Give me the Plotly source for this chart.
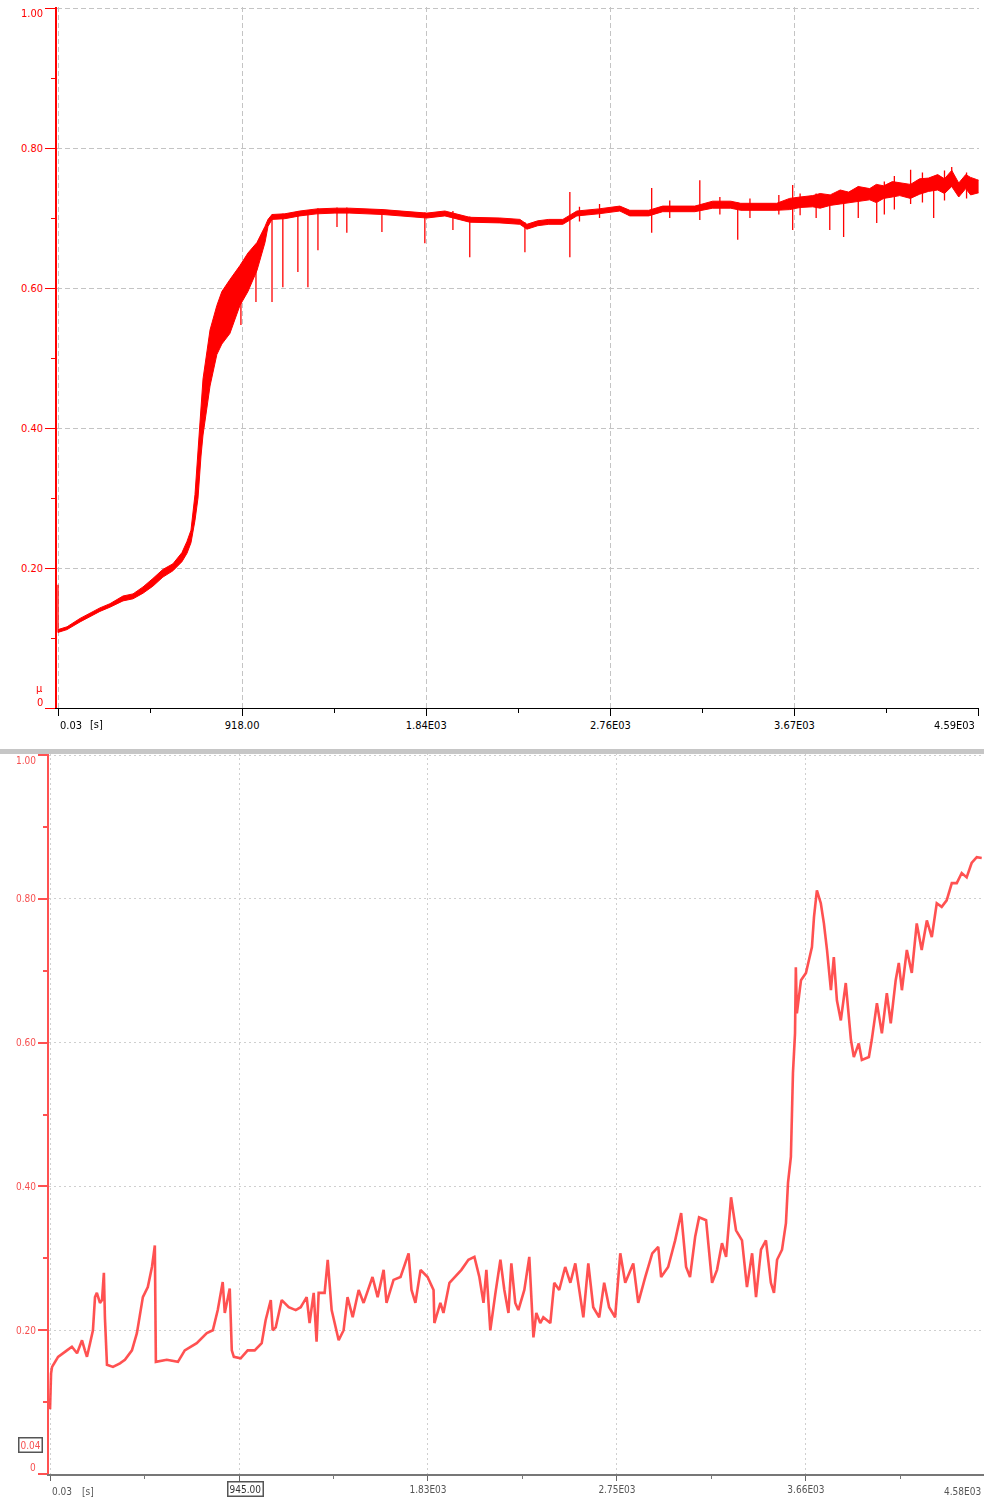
import plotly.graph_objects as go

W, H = 984, 1499

# ---------------- run 1 (upper panel): friction coefficient band ----------------
t_run1 = [0, 45, 110, 159, 209, 259, 324, 374, 424, 473, 523, 573, 618, 643, 663,
          683, 698, 713, 723, 743, 758, 792, 817, 857, 907, 947, 992, 1032, 1047,
          1067, 1131, 1206, 1291, 1381, 1455, 1620, 1729, 1839, 1929, 2053, 2203,
          2303, 2338, 2392, 2447, 2517, 2587, 2696, 2801, 2851, 2945, 3015, 3175,
          3264, 3354, 3404, 3583, 3648, 3700, 3763, 3800, 3850, 3900, 3942, 3990,
          4047, 4080, 4117, 4160, 4197, 4250, 4296, 4340, 4386, 4420, 4456, 4491,
          4526, 4550, 4580, 4590]
mu_run1_lo = [0.108, 0.112, 0.123, 0.131, 0.138, 0.144, 0.153, 0.156, 0.164, 0.174,
              0.187, 0.196, 0.209, 0.221, 0.236, 0.268, 0.300, 0.360, 0.390, 0.430,
              0.460, 0.505, 0.520, 0.535, 0.575, 0.595, 0.625, 0.665, 0.688, 0.698,
              0.699, 0.703, 0.706, 0.707, 0.707, 0.705, 0.702, 0.700, 0.703, 0.694,
              0.693, 0.691, 0.684, 0.689, 0.691, 0.691, 0.703, 0.706, 0.710, 0.703,
              0.703, 0.709, 0.709, 0.714, 0.714, 0.711, 0.711, 0.712, 0.715, 0.716,
              0.714, 0.718, 0.720, 0.722, 0.724, 0.726, 0.722, 0.728, 0.730, 0.732,
              0.728, 0.734, 0.738, 0.740, 0.735, 0.745, 0.730, 0.742, 0.733, 0.735,
              0.736]
mu_run1_hi = [0.112, 0.116, 0.128, 0.136, 0.143, 0.149, 0.160, 0.163, 0.173, 0.185,
              0.198, 0.206, 0.222, 0.238, 0.254, 0.305, 0.365, 0.430, 0.470, 0.510,
              0.540, 0.575, 0.595, 0.612, 0.632, 0.650, 0.665, 0.688, 0.698, 0.705,
              0.706, 0.710, 0.713, 0.714, 0.714, 0.712, 0.709, 0.707, 0.710, 0.701,
              0.700, 0.698, 0.691, 0.696, 0.698, 0.698, 0.710, 0.713, 0.717, 0.711,
              0.711, 0.717, 0.717, 0.724, 0.724, 0.721, 0.721, 0.728, 0.730, 0.732,
              0.735, 0.733, 0.740, 0.737, 0.745, 0.742, 0.748, 0.746, 0.752, 0.750,
              0.748, 0.756, 0.757, 0.762, 0.756, 0.768, 0.750, 0.762, 0.758, 0.755,
              0.754]

# short excursions of run 1: time, lowest and highest value reached
spike_t = [0, 912, 987, 1067, 1121, 1196, 1246, 1296, 1391, 1440, 1615, 1829, 1969,
           2053, 2328, 2552, 2600, 2700, 2960, 3050, 3200, 3300, 3389, 3450, 3594,
           3663, 3700, 3780, 3848, 3917, 3990, 4082, 4120, 4170, 4251, 4310, 4366,
           4420, 4456, 4530]
spike_lo = [0.108, 0.547, 0.580, 0.580, 0.601, 0.623, 0.601, 0.654, 0.687, 0.679,
            0.680, 0.664, 0.683, 0.644, 0.651, 0.644, 0.695, 0.700, 0.679, 0.700,
            0.697, 0.705, 0.669, 0.700, 0.705, 0.683, 0.704, 0.700, 0.683, 0.673,
            0.700, 0.693, 0.705, 0.712, 0.720, 0.722, 0.700, 0.725, 0.745, 0.728]
spike_hi = [0.176, 0.630, 0.660, 0.705, 0.706, 0.710, 0.711, 0.714, 0.715, 0.715,
            0.713, 0.708, 0.710, 0.702, 0.694, 0.737, 0.716, 0.720, 0.743, 0.725,
            0.754, 0.730, 0.722, 0.728, 0.733, 0.747, 0.735, 0.735, 0.730, 0.735,
            0.745, 0.742, 0.752, 0.760, 0.769, 0.765, 0.750, 0.768, 0.773, 0.765]

# ---------------- run 2 (lower panel) ----------------
t_run2 = [0, 5, 10, 39, 82, 106, 131, 155, 169, 179, 194, 208, 218, 227, 242, 252,
          261, 266, 276, 305, 339, 363, 397, 421, 450, 474, 494, 503, 508, 513, 566,
          620, 653, 711, 760, 789, 813, 837, 847, 871, 881, 891, 924, 958, 992, 1026,
          1045, 1070, 1079, 1094, 1123, 1157, 1191, 1215, 1244, 1258, 1278, 1292,
          1302, 1331, 1346, 1365, 1389, 1399, 1423, 1442, 1467, 1496, 1520, 1563,
          1588, 1617, 1631, 1665, 1699, 1738, 1752, 1771, 1796, 1830, 1859, 1863,
          1892, 1907, 1936, 1960, 1994, 2028, 2057, 2081, 2101, 2115, 2134, 2159,
          2183, 2202, 2222, 2236, 2255, 2270, 2299, 2323, 2343, 2357, 2376, 2391,
          2425, 2444, 2468, 2497, 2522, 2546, 2585, 2609, 2633, 2662, 2686, 2710,
          2739, 2764, 2788, 2827, 2851, 2885, 2919, 2948, 2962, 2996, 3030, 3059,
          3083, 3102, 3127, 3146, 3180, 3209, 3233, 3257, 3277, 3301, 3325, 3354,
          3378, 3403, 3422, 3446, 3470, 3494, 3509, 3524, 3548, 3567, 3577, 3591,
          3596, 3601, 3611, 3615, 3620, 3640, 3664, 3678, 3693, 3703, 3717, 3736,
          3751, 3766, 3785, 3799, 3814, 3833, 3857, 3882, 3896, 3920, 3935, 3969,
          3983, 4008, 4032, 4056, 4075, 4099, 4114, 4129, 4153, 4177, 4201, 4225,
          4250, 4274, 4298, 4322, 4346, 4371, 4395, 4419, 4443, 4467, 4492, 4516]
mu_run2 = [0.090, 0.140, 0.149, 0.163, 0.172, 0.177, 0.168, 0.186, 0.172, 0.163,
           0.182, 0.200, 0.246, 0.252, 0.238, 0.242, 0.280, 0.218, 0.152, 0.149,
           0.154, 0.159, 0.172, 0.196, 0.246, 0.260, 0.288, 0.312, 0.318, 0.156,
           0.159, 0.156, 0.172, 0.182, 0.196, 0.200, 0.228, 0.267, 0.224, 0.258,
           0.172, 0.163, 0.161, 0.172, 0.172, 0.182, 0.214, 0.242, 0.200, 0.204,
           0.242, 0.232, 0.228, 0.232, 0.246, 0.210, 0.252, 0.184, 0.252, 0.252,
           0.298, 0.228, 0.200, 0.186, 0.200, 0.246, 0.218, 0.256, 0.238, 0.274,
           0.246, 0.284, 0.238, 0.270, 0.274, 0.307, 0.256, 0.238, 0.284, 0.274,
           0.256, 0.210, 0.238, 0.224, 0.266, 0.274, 0.284, 0.298, 0.302, 0.274,
           0.238, 0.284, 0.200, 0.252, 0.298, 0.256, 0.224, 0.293, 0.238, 0.228,
           0.256, 0.302, 0.190, 0.224, 0.210, 0.218, 0.210, 0.266, 0.256, 0.288,
           0.266, 0.293, 0.218, 0.293, 0.232, 0.218, 0.266, 0.232, 0.218, 0.307,
           0.266, 0.293, 0.238, 0.274, 0.307, 0.316, 0.274, 0.288, 0.325, 0.363,
           0.288, 0.274, 0.330, 0.357, 0.353, 0.266, 0.284, 0.321, 0.302, 0.385,
           0.339, 0.325, 0.260, 0.307, 0.246, 0.312, 0.325, 0.266, 0.252, 0.298,
           0.312, 0.349, 0.405, 0.441, 0.488, 0.558, 0.613, 0.705, 0.641, 0.687,
           0.697, 0.715, 0.733, 0.775, 0.812, 0.794, 0.766, 0.729, 0.673, 0.719,
           0.659, 0.631, 0.683, 0.604, 0.580, 0.599, 0.576, 0.580, 0.604, 0.655,
           0.613, 0.669, 0.627, 0.687, 0.711, 0.673, 0.729, 0.697, 0.766, 0.729,
           0.770, 0.747, 0.794, 0.789, 0.798, 0.822, 0.822, 0.836, 0.830, 0.850,
           0.858, 0.857]

# ---------------- axis ticks ----------------
x1_tickvals = [0.03, 918, 1836, 2754, 3672, 4590]
x1_ticktext = ["", "918.00", "1.84E03", "2.76E03", "3.67E03", ""]
x1_minor = [459, 1377, 2295, 3213, 4131]
x2_tickvals = [0.03, 916, 1832, 2748, 3664, 4580]
x2_ticktext = ["", "", "1.83E03", "2.75E03", "3.66E03", ""]
x2_minor = [458, 1374, 2290, 3206, 4122]
y_tickvals = [0, 0.2, 0.4, 0.6, 0.8, 1.0]
y_ticktext = ["", "0.20", "0.40", "0.60", "0.80", ""]
y_minor = [0.1, 0.3, 0.5, 0.7, 0.9]
cursor_t, cursor_mu = 945.00, 0.04

FONT = "Liberation Sans Narrow, Arial Narrow, DejaVu Sans Condensed, Liberation Sans, sans-serif"
RED = "#ff0000"
PINK = "rgba(255,50,50,0.85)"
PINK_TXT = "rgba(245,60,60,0.9)"


def px(xp):
    return xp / W


def py(yp):
    return 1 - yp / H


fig = go.Figure()

# run 1: lower and upper edge of the noisy band, filled between
fig.add_trace(go.Scatter(x=t_run1, y=mu_run1_lo, mode="lines",
                         line=dict(color=RED, width=1),
                         xaxis="x", yaxis="y", hoverinfo="skip"))
fig.add_trace(go.Scatter(x=t_run1, y=mu_run1_hi, mode="lines",
                         line=dict(color=RED, width=1), fill="tonexty",
                         fillcolor=RED, xaxis="x", yaxis="y"))

sx, sy = [], []
for t, lo, hi in zip(spike_t, spike_lo, spike_hi):
    sx += [t, t, None]
    sy += [lo, hi, None]
fig.add_trace(go.Scatter(x=sx, y=sy, mode="lines", line=dict(color=RED, width=1.3),
                         xaxis="x", yaxis="y", hoverinfo="skip"))

# run 2
fig.add_trace(go.Scatter(x=t_run2, y=mu_run2, mode="lines",
                         line=dict(color=PINK, width=2.6),
                         xaxis="x2", yaxis="y2"))

grid1 = dict(showgrid=True, gridcolor="#c4c4c4", gridwidth=1, griddash="5px,3px")
grid2 = dict(showgrid=True, gridcolor="#cfcfcf", gridwidth=1.3, griddash="2px,3px")

top_y0, top_y1 = 708, 8
bot_y0, bot_y1 = 1474, 755

fig.update_layout(
    width=W, height=H,
    margin=dict(l=0, r=0, t=0, b=0),
    paper_bgcolor="white", plot_bgcolor="white",
    showlegend=False,
    font=dict(family=FONT, size=11, color="black"),
    xaxis=dict(domain=[px(57), px(979)], range=[-5, 4592], anchor="y",
               tickvals=x1_tickvals, ticktext=x1_ticktext,
               ticks="outside", ticklen=7, tickwidth=1, tickcolor="black",
               showline=True, linecolor="black", linewidth=1,
               tickfont=dict(family=FONT, size=11, color="black"),
               minor=dict(tickvals=x1_minor, ticks="outside", ticklen=4,
                          tickcolor="black", showgrid=False),
               zeroline=False, **grid1),
    yaxis=dict(domain=[py(top_y0), py(top_y1 - 1.4)], range=[0, 1.002], anchor="x",
               tickvals=y_tickvals, ticktext=y_ticktext,
               ticks="outside", ticklen=10, tickwidth=1.3, tickcolor=RED,
               showline=True, linecolor=RED, linewidth=1.5,
               tickfont=dict(family=FONT, size=11, color=RED),
               minor=dict(tickvals=y_minor, ticks="outside", ticklen=4,
                          tickcolor=RED, showgrid=False),
               zeroline=False, **grid1),
    xaxis2=dict(domain=[px(49), 1.0], range=[-5, 4527], anchor="y2",
                tickvals=x2_tickvals, ticktext=x2_ticktext,
                ticks="outside", ticklen=5, tickwidth=1.2, tickcolor="#666",
                showline=True, linecolor="#777", linewidth=2.2,
                tickfont=dict(family=FONT, size=10, color="#555"),
                minor=dict(tickvals=x2_minor, ticks="outside", ticklen=3,
                           tickcolor="#777", showgrid=False),
                zeroline=False, **grid2),
    yaxis2=dict(domain=[py(bot_y0), py(bot_y1 - 2)], range=[0, 1.003], anchor="x2",
                tickvals=y_tickvals, ticktext=y_ticktext,
                ticks="outside", ticklen=9, tickwidth=1.5, tickcolor=PINK,
                showline=True, linecolor=PINK, linewidth=2,
                tickfont=dict(family=FONT, size=10, color=PINK_TXT),
                minor=dict(tickvals=y_minor, ticks="outside", ticklen=4,
                           tickcolor=PINK, showgrid=False),
                zeroline=False, **grid2),
)

# separator between the two recordings
fig.add_shape(type="rect", xref="paper", yref="paper",
              x0=0, x1=1, y0=py(754), y1=py(749),
              fillcolor="#c6c6c6", line=dict(width=0), layer="above")

ann = []
# upper panel labels
ann.append(dict(text="0.03", x=px(58), y=py(725), xanchor="left", yanchor="middle",
                font=dict(size=11, color="black")))
ann.append(dict(text="[s]", x=px(88), y=py(724), xanchor="left", yanchor="middle",
                font=dict(size=11, color="black")))
ann.append(dict(text="4.59E03", x=px(977), y=py(725), xanchor="right", yanchor="middle",
                font=dict(size=11, color="black")))
ann.append(dict(text="0", x=px(45), y=py(702), xanchor="right", yanchor="middle",
                font=dict(size=11, color=RED)))
ann.append(dict(text="μ", x=px(45), y=py(688), xanchor="right", yanchor="middle",
                font=dict(size=11, color=RED)))
ann.append(dict(text="1.00", x=px(45), y=py(14), xanchor="right", yanchor="middle",
                font=dict(size=11, color=RED)))
# lower panel labels
ann.append(dict(text="0.03", x=px(50), y=py(1491), xanchor="left", yanchor="middle",
                font=dict(size=10, color="#555")))
ann.append(dict(text="[s]", x=px(80), y=py(1491), xanchor="left", yanchor="middle",
                font=dict(size=10, color="#555")))
ann.append(dict(text="4.58E03", x=px(983), y=py(1491), xanchor="right", yanchor="middle",
                font=dict(size=10, color="#555")))
ann.append(dict(text="0", x=px(38), y=py(1467), xanchor="right", yanchor="middle",
                font=dict(size=10, color=PINK_TXT)))
ann.append(dict(text="1.00", x=px(38), y=py(761), xanchor="right", yanchor="middle",
                font=dict(size=10, color=PINK_TXT)))
for a in ann:
    a.update(xref="paper", yref="paper", showarrow=False)

# cursor read-outs on the lower panel
ann.append(dict(text=f"{cursor_t:.2f}", xref="x2", yref="paper", x=cursor_t, y=py(1489),
                xanchor="center", yanchor="middle", showarrow=False,
                font=dict(size=10, color="#333"), bgcolor="white",
                bordercolor="#555", borderwidth=1.5, borderpad=1))
ann.append(dict(text=f"{cursor_mu:.2f}", xref="paper", yref="y2", x=px(31), y=cursor_mu,
                xanchor="center", yanchor="middle", showarrow=False,
                font=dict(size=10, color=PINK_TXT), bgcolor="white",
                bordercolor="#555", borderwidth=1.5, borderpad=1))
fig.update_layout(annotations=ann)

# the lower recording is a soft, slightly out-of-focus capture
soften_js = """
(function(){
  var gd = document.querySelector('.plotly-graph-div');
  if (!gd) return;
  var svg = gd.querySelector('svg.main-svg');
  var ns = 'http://www.w3.org/2000/svg';
  var defs = svg.querySelector('defs') || svg.insertBefore(document.createElementNS(ns, 'defs'), svg.firstChild);
  var f = document.createElementNS(ns, 'filter');
  f.setAttribute('id', 'softcapture');
  f.setAttribute('x', '-5%'); f.setAttribute('y', '-5%');
  f.setAttribute('width', '110%'); f.setAttribute('height', '110%');
  var b = document.createElementNS(ns, 'feGaussianBlur');
  b.setAttribute('stdDeviation', '0.7');
  f.appendChild(b); defs.appendChild(f);
  gd.querySelectorAll('.subplot.x2y2').forEach(function(g){ g.setAttribute('filter', 'url(#softcapture)'); });
  gd.querySelectorAll('g.annotation').forEach(function(g){
    var i = parseInt(g.getAttribute('data-index'));
    if (i >= 6) g.setAttribute('filter', 'url(#softcapture)');
  });
})();
"""

fig.write_html("out.html", post_script=soften_js)
